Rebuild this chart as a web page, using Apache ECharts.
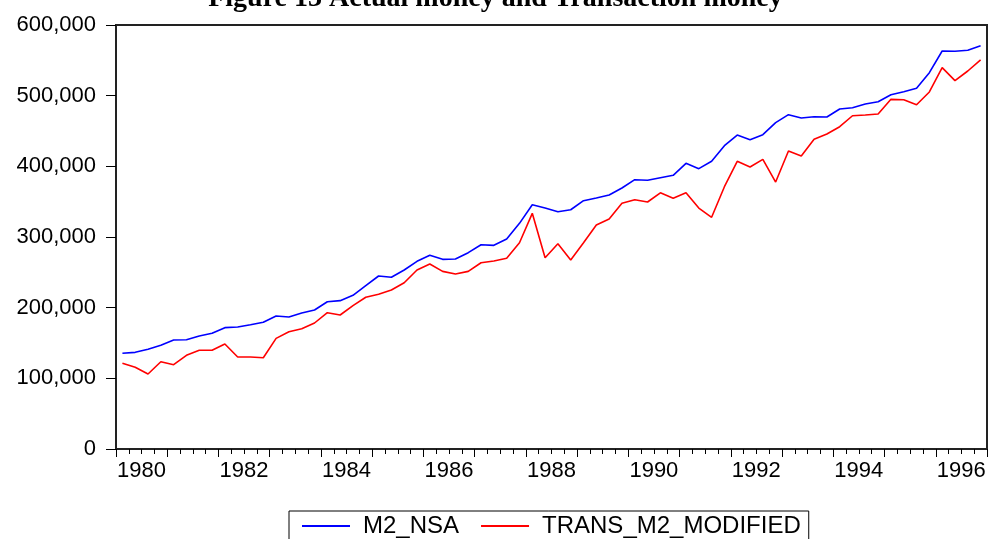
<!DOCTYPE html>
<html>
<head>
<meta charset="utf-8">
<script src="https://cdn.jsdelivr.net/npm/echarts@6/dist/echarts.min.js"></script>
<style>
    html, body { margin: 0; padding: 0; background: #fff; }
    #chart { width: 991px; height: 539px; }
</style>
</head>
<body>
<div id="chart"></div>
<script>
// quarterly observations 1980Q1 .. 1996Q4
var years = [1980, 1981, 1982, 1983, 1984, 1985, 1986, 1987, 1988,
             1989, 1990, 1991, 1992, 1993, 1994, 1995, 1996];
var quarters = [];
for (var y = 0; y < years.length; y++) {
    for (var q = 1; q <= 4; q++) {
        quarters.push(years[y] + 'Q' + q);
    }
}

var m2Nsa = [
    135400, 136800, 141100, 146700, 154200, 154700, 159900, 163700,
    171700, 172600, 175900, 179300, 188200, 186800, 192400, 196700,
    208400, 209900, 217500, 231100, 244800, 243000, 253300, 265600,
    274100, 268400, 268900, 277800, 289100, 288200, 297200, 319300,
    345700, 341000, 335800, 338600, 351400, 355200, 359400, 369300,
    381100, 380200, 383900, 387300, 404300, 396700, 407100, 429200,
    444300, 437700, 444800, 461800, 473100, 468400, 470200, 469800,
    481100, 483000, 488200, 491500, 501400, 505600, 510400, 532500,
    563200, 562800, 564200, 570700
];

var transM2 = [
    121300, 115600, 106100, 123500, 119300, 132600, 139700, 139700,
    148600, 130200, 130200, 129200, 156600, 166000, 170200, 178300,
    192900, 189600, 202800, 214700, 218900, 225000, 235300, 253300,
    261800, 251400, 247600, 251400, 263600, 266000, 269800, 291900,
    333500, 270700, 290500, 267400, 291900, 317000, 325500, 347700,
    352800, 349500, 362500, 354800, 362700, 341000, 327900, 371200,
    407100, 399000, 409900, 377800, 421700, 414600, 438200, 445700,
    456100, 471600, 472600, 474000, 494800, 494300, 487200, 505200,
    539600, 521200, 534900, 550500
];

var yTicks = [0, 100000, 200000, 300000, 400000, 500000, 600000];

function withCommas(v) {
    return String(v).replace(/\B(?=(\d{3})+(?!\d))/g, ',');
}

var ec = echarts.init(document.getElementById('chart'));
var option = {
    animation: false,
    title: {
        text: 'Figure 13 Actual money and Transaction money',
        left: 'center',
        top: -20,
        textStyle: {
            fontFamily: 'Liberation Serif',
            fontWeight: 'bold',
            fontSize: 28,
            color: '#000'
        }
    },
    legend: {
        data: ['M2_NSA', 'TRANS_M2_MODIFIED'],
        left: 289,
        top: 511,
        icon: 'rect',
        itemWidth: 48,
        itemHeight: 2,
        itemGap: 22,
        padding: [3, 8, 3, 13],
        borderColor: '#000',
        borderWidth: 1,
        textStyle: {
            fontFamily: 'Liberation Sans',
            fontSize: 24,
            color: '#000',
            padding: [0, 0, 0, 8]
        }
    },
    grid: {
        left: 116,
        top: 25,
        width: 871,
        height: 424,
        show: true,
        borderColor: '#222',
        borderWidth: 2
    },
    xAxis: [{
            type: 'category',
            data: quarters,
            boundaryGap: true,
            position: 'bottom',
            axisLine: {
                show: true,
                lineStyle: { color: '#222', width: 2 }
            },
            axisTick: {
                show: true,
                interval: 0,
                length: 5,
                lineStyle: { color: '#000', width: 1 }
            },
            axisLabel: {
                interval: function(index) {
                    return index % 8 === 2;
                },
                formatter: function(v) {
                    return v.slice(0, 4);
                },
                padding: [0, 13, 0, 0],
                margin: 11,
                fontFamily: 'Liberation Sans',
                fontSize: 22,
                color: '#000'
            },
            splitLine: { show: false }
        },
        {
            type: 'category',
            data: quarters,
            boundaryGap: true,
            position: 'bottom',
            axisLine: {
                show: true,
                lineStyle: { color: '#222', width: 2 }
            },
            axisTick: {
                show: true,
                interval: function(index) {
                    return index % 4 === 0;
                },
                length: 8,
                lineStyle: { color: '#000', width: 1 }
            },
            axisLabel: { show: false },
            splitLine: { show: false }
        }
    ],
    yAxis: {
        type: 'value',
        min: yTicks[0],
        max: yTicks[yTicks.length - 1],
        interval: yTicks[1] - yTicks[0],
        axisLine: {
            show: true,
            lineStyle: { color: '#222', width: 2 }
        },
        axisTick: {
            show: true,
            length: 10,
            lineStyle: { color: '#000', width: 1 }
        },
        axisLabel: {
            formatter: withCommas,
            margin: 20,
            fontFamily: 'Liberation Sans',
            fontSize: 22,
            color: '#000'
        },
        splitLine: { show: false }
    },
    series: [{
            name: 'M2_NSA',
            type: 'line',
            xAxisIndex: 0,
            data: m2Nsa,
            showSymbol: false,
            symbol: 'none',
            color: '#0000ff',
            lineStyle: { color: '#0000ff', width: 1.6 }
        },
        {
            name: 'TRANS_M2_MODIFIED',
            type: 'line',
            xAxisIndex: 0,
            data: transM2,
            showSymbol: false,
            symbol: 'none',
            color: '#ff0000',
            lineStyle: { color: '#ff0000', width: 1.6 }
        }
    ]
};
ec.setOption(option);
</script>
</body>
</html>
